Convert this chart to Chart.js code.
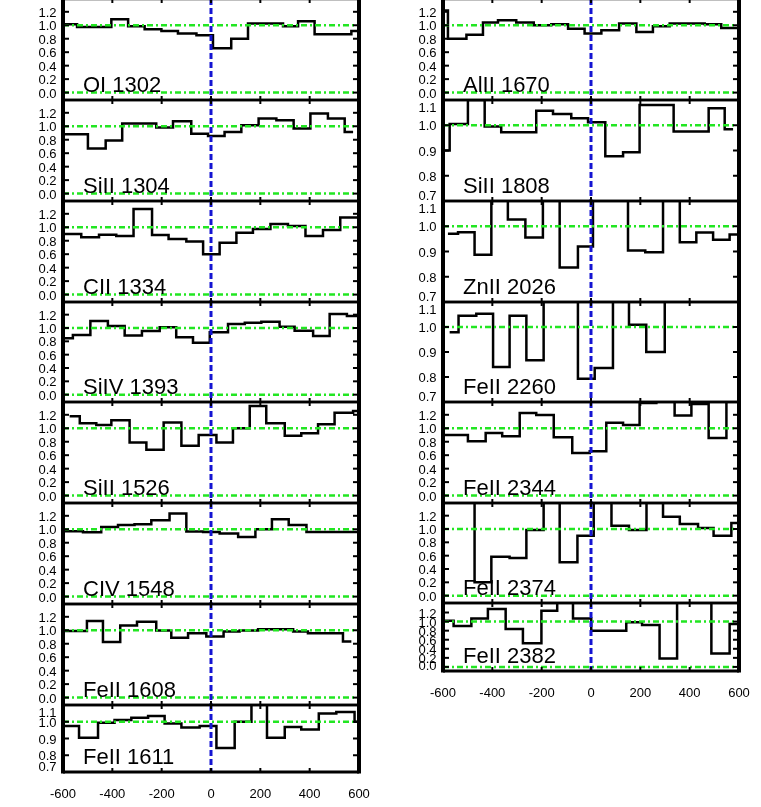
<!DOCTYPE html>
<html><head><meta charset="utf-8">
<script src="https://cdn.jsdelivr.net/npm/chart.js@4.4.1/dist/chart.umd.min.js"></script>
<style>
html,body{margin:0;padding:0;background:#fff;width:761px;height:807px;overflow:hidden;position:relative}
canvas{position:absolute}
</style></head><body>
<script>
// ---- data: velocity bin edges (km/s) and normalized flux per bin ----
const xTickValues = [-600,-400,-200,0,200,400,600];
const yTicksWide = [0.0,0.2,0.4,0.6,0.8,1.0,1.2];
const yTicksNarrow = [0.7,0.8,0.9,1.0,1.1];
const lineLabels = ['OI 1302','SiII 1304','CII 1334','SiIV 1393','SiII 1526','CIV 1548','FeII 1608','FeII 1611',
                    'AlII 1670','SiII 1808','ZnII 2026','FeII 2260','FeII 2344','FeII 2374','FeII 2382'];

const vel_OI1302  = [-593,-543,-404,-336,-269,-201,-134,-59,8,82,150,292,353,420,569,600];
const flux_OI1302 = [1.015,0.975,1.09,0.985,0.94,0.915,0.876,0.85,0.66,0.80,1.025,0.985,1.06,0.866,0.916];

const vel_SiII1304  = [-600,-499,-427,-360,-222,-154,-80,-12,55,123,193,265,335,403,474,542,576];
const flux_SiII1304 = [0.88,0.67,0.79,1.04,0.98,1.075,0.89,0.856,0.916,1.015,1.114,1.09,0.965,1.19,1.114,0.916];

const vel_CII1334  = [-600,-526,-454,-384,-314,-239,-172,-100,-32,35,103,170,241,312,383,454,524,600];
const flux_CII1334 = [0.90,0.85,0.89,0.87,1.27,0.885,0.826,0.79,0.60,0.77,0.92,0.975,1.05,1.02,0.87,0.96,1.144];

const vel_SiIV1393  = [-600,-560,-489,-418,-350,-280,-208,-141,-73,-5,69,137,204,278,339,414,481,551,600];
const flux_SiIV1393 = [0.846,0.896,1.104,1.03,0.886,0.955,1.01,0.86,0.78,0.936,1.06,1.08,1.094,1.02,0.96,0.88,1.21,1.18];

const vel_SiII1526  = [-573,-532,-465,-404,-330,-262,-192,-120,-50,22,89,157,224,299,366,434,501,576,600];
const flux_SiII1526 = [1.18,1.074,1.05,1.12,0.79,0.68,1.084,0.74,0.90,0.79,1.0,1.33,1.074,0.887,0.926,1.06,1.23,1.256];

const vel_CIV1548  = [-600,-519,-445,-377,-310,-242,-168,-100,-32,35,110,180,247,315,387,600];
const flux_CIV1548 = [0.97,0.955,1.035,1.064,1.074,1.134,1.233,0.965,0.96,0.936,0.886,1.0,1.15,1.064,0.96];

const vel_FeII1608  = [-600,-503,-438,-368,-300,-222,-161,-93,-19,51,116,191,333,393,535,569];
const flux_FeII1608 = [0.99,1.137,0.824,1.07,1.127,0.995,0.89,0.956,0.907,0.98,0.995,1.015,0.98,0.956,0.833];

const vel_FeII1611  = [-600,-535,-458,-391,-323,-255,-188,-120,-46,22,96,164,227,299,366,437,508,582,600];
const flux_FeII1611 = [0.974,0.904,0.994,1.01,1.024,1.034,0.99,0.966,0.974,0.844,1.0,1.15,0.904,0.968,0.954,1.05,1.058,1.0];

const vel_AlII1670  = [-593,-580,-505,-438,-377,-303,-232,-161,-93,-26,42,114,184,251,319,387,461,528,600];
const flux_AlII1670 = [1.22,0.80,0.86,1.04,1.074,1.04,1.0,1.015,0.95,0.876,0.926,1.025,0.90,0.985,1.025,1.025,1.015,0.96];

const vel_SiII1808  = [-600,-573,-499,-431,-364,-222,-154,-80,-12,58,130,197,335,477,542,576];
const flux_SiII1808 = [0.90,1.005,1.10,0.995,0.972,1.057,1.045,1.028,1.012,0.877,0.893,1.08,0.975,1.067,0.984];

const vel_ZnII2026  = [-580,-539,-472,-404,-337,-266,-195,-127,-53,8,150,220,292,360,427,495,562,600];
const flux_ZnII2026 = [0.97,0.976,0.887,1.2,1.027,0.955,1.2,0.837,0.92,1.2,0.904,0.897,1.2,0.937,0.975,0.947,0.967];

const vel_FeII2260  = [-573,-537,-465,-397,-330,-262,-192,-53,15,89,154,224,299,600];
const flux_FeII2260 = [0.979,1.045,1.053,0.84,1.045,0.867,1.2,0.793,0.836,1.2,1.009,0.90,1.2];

const vel_FeII2344  = [-600,-499,-427,-360,-289,-222,-151,-76,-5,62,130,197,265,339,407,477,549,600];
const flux_FeII2344 = [0.9,0.807,0.93,0.88,1.228,1.198,0.866,0.634,0.658,1.08,1.05,1.376,1.42,1.19,1.36,0.856,1.6];

const vel_FeII2374  = [-600,-472,-404,-330,-262,-192,-127,-55,11,83,154,225,292,360,434,497,569,600];
const flux_FeII2374 = [1.6,0.20,0.585,0.565,0.985,1.6,0.50,0.90,1.45,1.05,0.985,1.45,1.185,1.075,1.015,0.90,1.09];

const vel_FeII2382  = [-600,-557,-485,-418,-346,-276,-201,-137,-73,1,143,207,278,349,488,562,600];
const flux_FeII2382 = [1.02,0.90,1.07,1.28,0.837,0.52,1.24,1.6,1.07,0.80,0.985,0.926,0.185,1.6,0.296,0.948];

// ---- layout (positions/sizes kept separate from data) ----
const layoutSpec = [
  {v:vel_OI1302,  f:flux_OI1302,  col:0, top:-1,  h:101, kind:'wide'},
  {v:vel_SiII1304,f:flux_SiII1304,col:0, top:100, h:101, kind:'wide'},
  {v:vel_CII1334, f:flux_CII1334, col:0, top:201, h:101, kind:'wide'},
  {v:vel_SiIV1393,f:flux_SiIV1393,col:0, top:302, h:100, kind:'wide'},
  {v:vel_SiII1526,f:flux_SiII1526,col:0, top:402, h:101, kind:'wide'},
  {v:vel_CIV1548, f:flux_CIV1548, col:0, top:503, h:101, kind:'wide'},
  {v:vel_FeII1608,f:flux_FeII1608,col:0, top:604, h:101, kind:'wide'},
  {v:vel_FeII1611,f:flux_FeII1611,col:0, top:705, h:67,  kind:'narrow', bottom:true},
  {v:vel_AlII1670,f:flux_AlII1670,col:1, top:-1,  h:101, kind:'wide'},
  {v:vel_SiII1808,f:flux_SiII1808,col:1, top:100, h:101, kind:'narrow'},
  {v:vel_ZnII2026,f:flux_ZnII2026,col:1, top:201, h:101, kind:'narrow'},
  {v:vel_FeII2260,f:flux_FeII2260,col:1, top:302, h:100, kind:'narrow'},
  {v:vel_FeII2344,f:flux_FeII2344,col:1, top:402, h:101, kind:'wide'},
  {v:vel_FeII2374,f:flux_FeII2374,col:1, top:503, h:100, kind:'wide'},
  {v:vel_FeII2382,f:flux_FeII2382,col:1, top:603, h:68,  kind:'wide2', bottom:true}
];
const ranges = { wide:[-0.11,1.39], wide2:[-0.09,1.41], narrow:[0.7,1.1] };
const FONT = '"Liberation Sans", Arial, Helvetica, sans-serif';

const panelPlugin = {
  id: 'panelDeco',
  afterDatasetsDraw(chart, args, opts) {
    const {ctx, chartArea: a} = chart;
    const xs = chart.scales.x, ys = chart.scales.y;
    const p = opts.p;
    const narrow = p.kind === 'narrow';
    const yt = narrow ? yTicksNarrow : yTicksWide;
    const line = (x1,y1,x2,y2) => { ctx.beginPath(); ctx.moveTo(x1,y1); ctx.lineTo(x2,y2); ctx.stroke(); };
    ctx.save();
    // green reference lines
    ctx.strokeStyle = '#22e622'; ctx.lineWidth = 2.5; ctx.setLineDash([6,3,2,3]);
    const guides = narrow ? [1.0] : [1.0, 0.0];
    for (const g of guides) { const py = ys.getPixelForValue(g); line(a.left, py, a.right, py); }
    // blue zero-velocity line
    ctx.strokeStyle = '#1414d2'; ctx.lineWidth = 3; ctx.setLineDash([6,3]);
    const px0 = xs.getPixelForValue(0);
    line(px0, a.top, px0, a.bottom);
    ctx.setLineDash([]);
    // frame
    ctx.strokeStyle = '#000';
    ctx.lineWidth = 2.5;
    line(a.left, a.top, a.right, a.top);
    ctx.lineWidth = p.bottom ? 3 : 2.5;
    line(a.left, a.bottom, a.right, a.bottom);
    ctx.lineWidth = 4;
    line(a.left, a.top - 1.25, a.left, a.bottom + 1.5);
    line(a.right, a.top - 1.25, a.right, a.bottom + 1.5);
    // inward ticks
    ctx.lineWidth = 2;
    for (const v of [-400,-200,0,200,400]) {
      const px = xs.getPixelForValue(v);
      line(px, a.top, px, a.top + 4);
      line(px, a.bottom, px, a.bottom - 4);
    }
    for (const v of yt) {
      const py = ys.getPixelForValue(v);
      line(a.left, py, a.left + 6, py);
      line(a.right, py, a.right - 6, py);
    }
    // y tick labels
    ctx.fillStyle = '#000';
    ctx.font = '13px ' + FONT;
    ctx.textAlign = 'right'; ctx.textBaseline = 'middle';
    for (const v of yt) {
      let cy = ys.getPixelForValue(v) + 1.5;
      cy = Math.max(a.top + 8, Math.min(a.bottom - 5, cy));
      ctx.fillText(v.toFixed(1), a.left - 6.5, cy);
    }
    // panel label
    ctx.font = '22px ' + FONT;
    ctx.textAlign = 'left'; ctx.textBaseline = 'alphabetic';
    ctx.fillText(p.label, a.left + 20, a.bottom - 8);
    ctx.restore();
  }
};

layoutSpec.forEach((p, i) => {
  p.label = lineLabels[i];
  const padTop = 4, padBottom = p.bottom ? 0 : 4, axisH = p.bottom ? 38 : 0;
  const cv = document.createElement('canvas');
  const W = 380, H = padTop + p.h + padBottom + axisH;
  cv.width = W; cv.height = H;
  cv.style.width = W + 'px'; cv.style.height = H + 'px';
  cv.style.left = (p.col === 0 ? 0 : 380) + 'px';
  cv.style.top = (p.top - padTop) + 'px';
  document.body.appendChild(cv);
  const pts = p.f.map((y, k) => ({x: p.v[k], y}));
  pts.push({x: p.v[p.v.length - 1], y: p.f[p.f.length - 1]});
  const r = ranges[p.kind];
  new Chart(cv, {
    type: 'line',
    data: { datasets: [{ data: pts, stepped: 'before', borderColor: '#000', borderWidth: 2.5,
      pointRadius: 0, fill: false, borderJoinStyle: 'miter', borderCapStyle: 'butt' }] },
    options: {
      responsive: false, animation: false, events: [],
      layout: { padding: {left: 63, right: 21, top: padTop, bottom: padBottom}, autoPadding: false },
      plugins: { legend: {display: false}, tooltip: {enabled: false}, panelDeco: {p} },
      scales: {
        x: { type: 'linear', min: -600, max: 600, display: !!p.bottom,
             ticks: { stepSize: 200, color: '#000', font: {size: 13, family: FONT}, padding: 15, maxRotation: 0, autoSkip: false },
             afterBuildTicks: s => { s.ticks = xTickValues.map(v => ({value: v})); },
             grid: { display: false, drawTicks: false }, border: { display: false },
             afterFit: s => { s.height = axisH; s.paddingLeft = 0; s.paddingRight = 0; } },
        y: { type: 'linear', min: r[0], max: r[1], display: false }
      }
    },
    plugins: [panelPlugin]
  });
});
</script>
</body></html>
